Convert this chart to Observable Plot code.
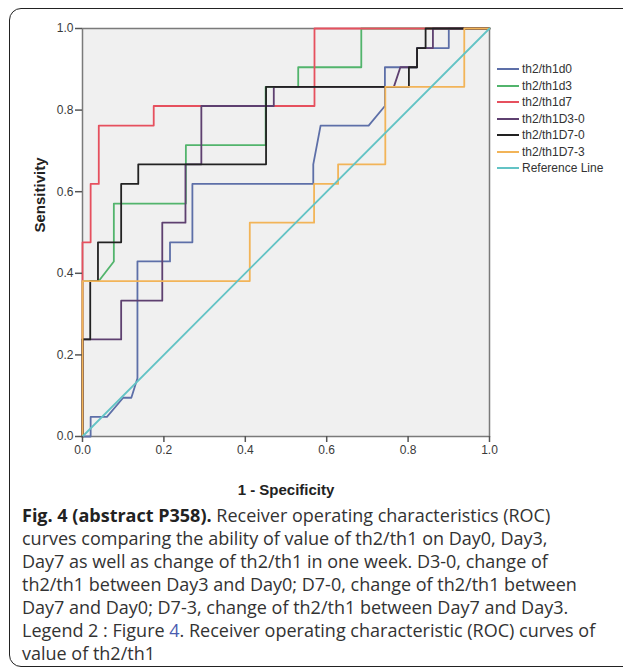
<!DOCTYPE html>
<html><head><meta charset="utf-8">
<script src="https://cdn.jsdelivr.net/npm/d3@7"></script>
<script src="https://cdn.jsdelivr.net/npm/@observablehq/plot@0.6"></script>
<style>
html,body{margin:0;padding:0;background:#fff;}
#page{position:relative;width:623px;height:672px;overflow:hidden;background:#fff;}
#box{position:absolute;left:9px;top:8px;width:680px;height:659px;border:1.5px solid #222;border-radius:12px;box-sizing:border-box;}
#chart{position:absolute;left:0;top:0;}
#legend{position:absolute;left:497px;top:61px;font:12px "Liberation Sans",Arial,sans-serif;color:#333;}
.row{height:16.5px;display:flex;align-items:center;}
.sw{display:inline-block;width:22px;height:2px;margin-right:3px;}
#caption{position:absolute;left:22px;top:504px;font:18px "Open Sans",sans-serif;line-height:23px;color:#333;white-space:nowrap;}
#caption b{color:#222;}
#caption .lk{color:#4a5cb0;}
</style></head><body>
<div id="page"><div id="box"></div><div id="chart"></div><div id="legend"></div><div id="caption"></div></div>
<script>
// ---- data ----
const seriesNames = ["th2/th1d0","th2/th1d3","th2/th1d7","th2/th1D3-0","th2/th1D7-0","th2/th1D7-3","Reference Line"];
const seriesColors = ["#5d6fa8","#52b46c","#e6505e","#5e4070","#222222","#f2b458","#63c3c5"];

const fpr_d0  = [0,0.02,0.02,0.06,0.10,0.12,0.135,0.135,0.215,0.215,0.27,0.27,0.567,0.567,0.585,0.703,0.743,0.743,0.822,0.822,0.90,0.90,1];
const tpr_d0  = [0,0,0.048,0.048,0.095,0.095,0.143,0.429,0.429,0.476,0.476,0.619,0.619,0.667,0.762,0.762,0.81,0.905,0.905,0.952,0.952,1,1];

const fpr_d3  = [0,0,0.04,0.077,0.077,0.254,0.254,0.45,0.45,0.53,0.53,0.685,0.685,1];
const tpr_d3  = [0,0.381,0.381,0.429,0.571,0.571,0.714,0.714,0.857,0.857,0.905,0.905,1,1];

const fpr_d7  = [0,0,0.02,0.02,0.04,0.04,0.175,0.175,0.57,0.57,1];
const tpr_d7  = [0,0.476,0.476,0.619,0.619,0.762,0.762,0.81,0.81,1,1];

const fpr_D30 = [0,0,0.095,0.095,0.196,0.196,0.253,0.253,0.292,0.292,0.47,0.47,0.765,0.781,0.822,0.822,0.861,0.861,1];
const tpr_D30 = [0,0.238,0.238,0.333,0.333,0.524,0.524,0.667,0.667,0.81,0.81,0.857,0.857,0.905,0.905,0.952,0.952,1,1];

const fpr_D70 = [0,0,0.019,0.019,0.038,0.038,0.095,0.095,0.137,0.137,0.451,0.451,0.802,0.802,0.822,0.822,0.843,0.843,1];
const tpr_D70 = [0,0.238,0.238,0.381,0.381,0.476,0.476,0.619,0.619,0.667,0.667,0.857,0.857,0.905,0.905,0.952,0.952,1,1];

const fpr_D73 = [0,0,0.411,0.411,0.569,0.569,0.628,0.628,0.744,0.744,0.938,0.938,1];
const tpr_D73 = [0,0.381,0.381,0.524,0.524,0.619,0.619,0.667,0.667,0.857,0.857,1,1];

const fpr_ref = [0,1];
const tpr_ref = [0,1];

const xTicks = [0,0.2,0.4,0.6,0.8,1.0];
const yTicks = [0,0.2,0.4,0.6,0.8,1.0];

const captionLines = [
  ["Fig. 4 (abstract P358).", " Receiver operating characteristics (ROC)"],
  ["", "curves comparing the ability of value of th2/th1 on Day0, Day3,"],
  ["", "Day7 as well as change of th2/th1 in one week. D3-0, change of"],
  ["", "th2/th1 between Day3 and Day0; D7-0, change of th2/th1 between"],
  ["", "Day7 and Day0; D7-3, change of th2/th1 between Day7 and Day3."],
  ["", "Legend 2 : Figure |4|. Receiver operating characteristic (ROC) curves of"],
  ["", "value of th2/th1"]
];

// ---- build table ----
const allF = [fpr_d0,fpr_d3,fpr_d7,fpr_D30,fpr_D70,fpr_D73,fpr_ref];
const allT = [tpr_d0,tpr_d3,tpr_d7,tpr_D30,tpr_D70,tpr_D73,tpr_ref];
const rows = [];
seriesNames.forEach((s,i)=>{
  allF[i].forEach((f,j)=>rows.push({series:s, fpr:f, tpr:allT[i][j]}));
});

const chart = Plot.plot({
  width: 500, height: 500,
  marginLeft: 82, marginTop: 28, marginRight: 11, marginBottom: 64,
  x: {domain:[0,1]},
  y: {domain:[0,1]},
  color: {domain: seriesNames, range: seriesColors},
  style: {fontFamily: "'Liberation Sans', Arial, sans-serif", fontSize: "12px", color:"#3a3a3a", background:"transparent", overflow:"visible"},
  marks: [
    Plot.frame({fill:"#f0f0f0", stroke:"#7a7a7a", strokeWidth:1.5}),
    Plot.line(rows, {x:"fpr", y:"tpr", z:"series", stroke:"series", strokeWidth:1.8, curve:"linear"}),
    Plot.axisX({ticks:xTicks, tickFormat:d3.format(".1f"), tickSize:6, tickPadding:3, label:null, stroke:"#555", strokeWidth:1.5}),
    Plot.axisY({ticks:yTicks, tickFormat:d3.format(".1f"), tickSize:7, tickPadding:2, label:null, stroke:"#555", strokeWidth:1.5}),
    Plot.text(["1 - Specificity"], {text:d=>d, frameAnchor:"bottom", dy:54, lineAnchor:"middle", fontWeight:"bold", fontSize:15, fill:"#222"}),
    Plot.text(["Sensitivity"], {text:d=>d, frameAnchor:"left", dx:-42, rotate:-90, lineAnchor:"middle", fontWeight:"bold", fontSize:15, fill:"#222"})
  ]
});
document.getElementById("chart").append(chart);

// legend
const lg = document.getElementById("legend");
seriesNames.forEach((s,i)=>{
  const r = document.createElement("div"); r.className="row";
  const sw = document.createElement("span"); sw.className="sw"; sw.style.background = seriesColors[i];
  const t = document.createElement("span"); t.textContent = s;
  r.append(sw,t); lg.append(r);
});

// caption
const cap = document.getElementById("caption");
captionLines.forEach(([b,rest])=>{
  const d = document.createElement("div");
  if (b) { const bb = document.createElement("b"); bb.textContent = b; d.append(bb); }
  const parts = rest.split("|");
  parts.forEach((p,k)=>{
    if (k%2===1){ const sp=document.createElement("span"); sp.className="lk"; sp.textContent=p; d.append(sp);} else d.append(document.createTextNode(p));
  });
  cap.append(d);
});
</script>
</body></html>
